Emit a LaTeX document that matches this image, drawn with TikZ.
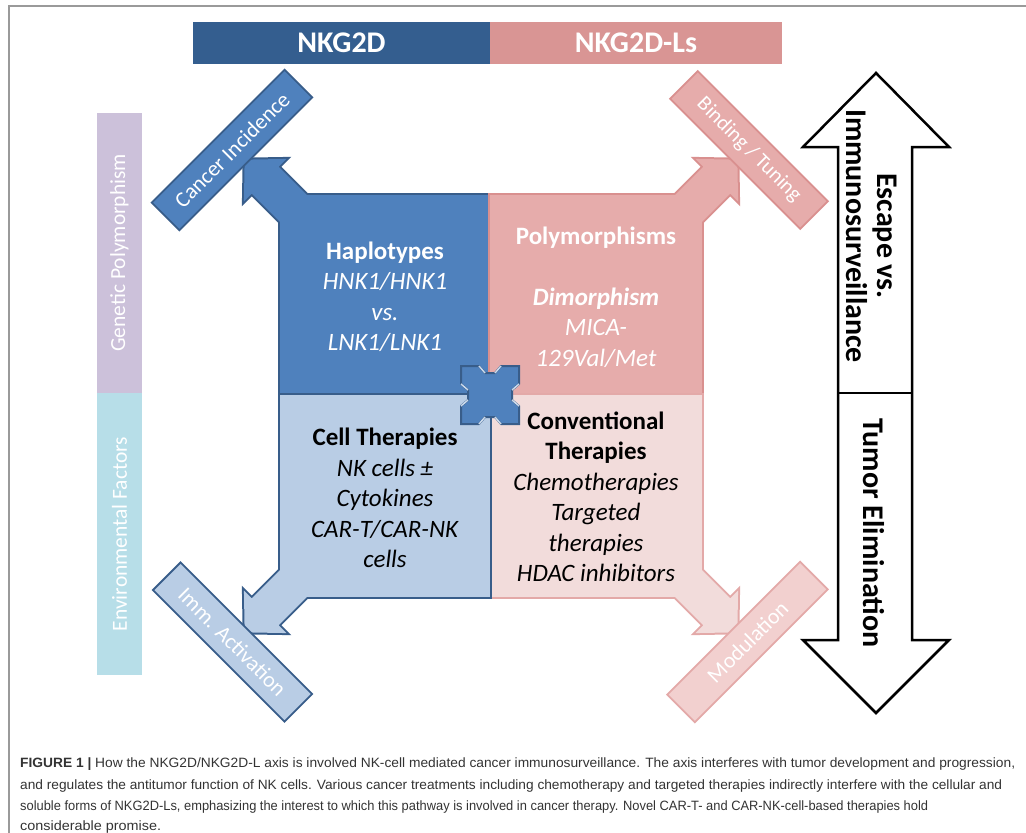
\documentclass[tikz,border=0pt]{standalone}
\usepackage{fontspec}
\usepackage{graphicx}
\setmainfont{Carlito}
\newfontfamily\capfont{Liberation Sans}
\definecolor{nkdark}{HTML}{345E8F}
\definecolor{nkpink}{HTML}{D99594}
\definecolor{bluefill}{HTML}{4F81BD}
\definecolor{blueedge}{HTML}{385D8A}
\definecolor{pinkfill}{HTML}{E6ACAB}
\definecolor{pinkedge}{HTML}{D9908F}
\definecolor{lbluefill}{HTML}{B9CDE5}
\definecolor{lpinkfill}{HTML}{F2DCDB}
\definecolor{lpinkedge}{HTML}{E3A9A8}
\definecolor{modfill}{HTML}{F2D0CF}
\definecolor{purplebar}{HTML}{CCC1DA}
\definecolor{cyanbar}{HTML}{B7DEE8}
\definecolor{framegray}{HTML}{9A9A9A}
\definecolor{captext}{HTML}{333333}
\newcommand\arrowshape{(-30,-19) -- (21,-19) -- (21,-30) -- (50,0) -- (21,30) -- (21,19) -- (-30,19) -- cycle}
\tikzset{
  topbar/.style={inner sep=0pt, text=white, font=\bfseries\fontsize{30}{32}\selectfont, minimum height=42},
  sidebar/.style={inner sep=0pt, text=white, font=\fontsize{21.5}{23}\selectfont, rotate=90, minimum height=45},
  diagbar/.style={draw, line width=1.8pt, inner sep=0pt, minimum height=39, text=white, font=\fontsize{22}{24}\selectfont},
  quadtext/.style={align=center, font=\fontsize{25}{30.5}\selectfont, inner sep=0pt},
  boxedge/.style={line width=4pt, line join=miter},
  bigtext/.style={font=\bfseries\fontsize{30}{31}\selectfont, align=center, inner sep=0pt, rotate=-90},
  capline/.style={anchor=base west, inner sep=0pt, text=captext, font=\capfont\fontsize{13.5}{16}\selectfont},
}
\begin{document}
\begin{tikzpicture}[x=1pt,y=-1pt]
\useasboundingbox (0,0) rectangle (1026,833);
% frame
\draw[framegray, line width=2pt] (9,833) -- (9,6) -- (1026,6);
% top bars
\node[topbar, fill=nkdark, minimum width=297] (nk) at (341.5,43) {NKG2D};
\node[topbar, fill=nkpink, minimum width=292] (nkl) at (636,43) {NKG2D-Ls};
% side bars
\node[sidebar, fill=purplebar, minimum width=280] (gen) at (119.5,253) {Genetic Polymorphism};
\node[sidebar, fill=cyanbar, minimum width=282] (env) at (119.5,534) {Environmental Factors};
% corners
\coordinate (tl) at (280,195);
\coordinate (tr) at (702,195);
\coordinate (bl) at (280,597);
\coordinate (br) at (702,597);
\coordinate (ctr) at (490,395);
% TL quadrant
\draw[boxedge, blueedge] (tl) rectangle (ctr);
\begin{scope}[shift={(tl)}, rotate=135]
  \draw[boxedge, blueedge] \arrowshape;
\end{scope}
\fill[bluefill] (tl) rectangle (ctr);
\begin{scope}[shift={(tl)}, rotate=135]
  \fill[bluefill] \arrowshape;
\end{scope}
% TR quadrant
\draw[boxedge, pinkedge] (490,195) rectangle (702,395);
\begin{scope}[shift={(tr)}, rotate=45]
  \draw[boxedge, pinkedge] \arrowshape;
\end{scope}
\fill[pinkfill] (490,195) rectangle (702,395);
\begin{scope}[shift={(tr)}, rotate=45]
  \fill[pinkfill] \arrowshape;
\end{scope}
% BR quadrant
\draw[boxedge, lpinkedge] (ctr) rectangle (br);
\begin{scope}[shift={(br)}, rotate=-45]
  \draw[boxedge, lpinkedge] \arrowshape;
\end{scope}
\fill[lpinkfill] (ctr) rectangle (br);
\begin{scope}[shift={(br)}, rotate=-45]
  \fill[lpinkfill] \arrowshape;
\end{scope}
% BL quadrant
\draw[boxedge, blueedge] (280,395) rectangle (490,597);
\begin{scope}[shift={(bl)}, rotate=225]
  \draw[boxedge, blueedge] \arrowshape;
\end{scope}
\fill[lbluefill] (280,395) rectangle (490,597);
\begin{scope}[shift={(bl)}, rotate=225]
  \fill[lbluefill] \arrowshape;
\end{scope}
% diagonal bars
\node[diagbar, fill=bluefill, draw=blueedge, rotate=45, minimum width=188] (canc) at (232,150) {Cancer Incidence};
\node[diagbar, fill=pinkfill, draw=pinkedge, rotate=-45, minimum width=184, font=\fontsize{21}{23}\selectfont] (bind) at (749,150) {Binding / Tuning};
\node[diagbar, fill=lbluefill, draw=blueedge, rotate=-45, minimum width=186] (imm) at (232.5,642) {Imm. Activation};
\node[diagbar, fill=modfill, draw=lpinkedge, rotate=45, minimum width=188] (mod) at (747.5,642) {Modulation};
% quadrant texts
\node[quadtext, text=white] (hap) at (385,297) {\textbf{Haplotypes}\\\textit{HNK1/HNK1}\\\textit{vs.}\\\textit{LNK1/LNK1}};
\node[quadtext, text=white] (poly) at (596,297) {\textbf{Polymorphisms}\\[30.5pt]\textbf{\textit{Dimorphism}}\\\textit{MICA-}\\\textit{129Val/Met}};
\node[quadtext, text=black] (cell) at (385,498) {\textbf{Cell Therapies}\\\textit{NK cells ±}\\\textit{Cytokines}\\\textit{CAR-T/CAR-NK}\\\textit{cells}};
\node[quadtext, text=black] (conv) at (596,497) {\textbf{Conventional}\\\textbf{Therapies}\\\textit{Chemotherapies}\\\textit{Targeted}\\\textit{therapies}\\\textit{HDAC inhibitors}};
% central puzzle piece
\begin{scope}[shift={(ctr)}]
  \filldraw[fill=bluefill, draw=blueedge, line width=2pt, line join=miter]
    (-29,-29) -- (-11,-29) -- (-5,-22) -- (5,-22) -- (11,-29) -- (29,-29) -- (29,-11) -- (22,-5) -- (22,5) -- (29,11) -- (29,29) -- (11,29) -- (5,22) -- (-5,22) -- (-11,29) -- (-29,29) -- (-29,11) -- (-22,5) -- (-22,-5) -- (-29,-11) -- cycle;
  \draw[white!70!bluefill, line width=1.5pt]
    (-11,-29) -- (-5,-22) (5,-22) -- (11,-29)
    (29,-11) -- (22,-5) (22,5) -- (29,11)
    (11,29) -- (5,22) (-5,22) -- (-11,29)
    (-29,11) -- (-22,5) (-22,-5) -- (-29,-11);
\end{scope}
% right double arrow
\draw[black, line width=2.5pt, fill=white, line join=miter]
  (876,73) -- (949,147) -- (912,147) -- (912,640) -- (949,640) -- (876,713)
  -- (803,640) -- (838,640) -- (838,147) -- (803,147) -- cycle;
\coordinate (dl) at (838,393);
\coordinate (dr) at (912,393);
\draw[black, line width=2.5pt] (dl) -- (dr);
\node[bigtext] (esc) at (872,236) {Escape vs.\\Immunosurveillance};
\node[bigtext] (tum) at (874,533) {Tumor Elimination};
% caption
\node[capline] (cap1) at (20,767) {\resizebox{995pt}{\height}{\textbf{FIGURE 1 |} How the NKG2D/NKG2D-L axis is involved NK-cell mediated cancer immunosurveillance. The axis interferes with tumor development and progression,}};
\node[capline] (cap2) at (20,789) {\resizebox{982pt}{\height}{and regulates the antitumor function of NK cells. Various cancer treatments including chemotherapy and targeted therapies indirectly interfere with the cellular and}};
\node[capline] (cap3) at (20,810) {\resizebox{908pt}{\height}{soluble forms of NKG2D-Ls, emphasizing the interest to which this pathway is involved in cancer therapy. Novel CAR-T- and CAR-NK-cell-based therapies hold}};
\node[capline] (cap4) at (20,830) {\resizebox{141pt}{\height}{considerable promise.}};
\end{tikzpicture}
\end{document}
